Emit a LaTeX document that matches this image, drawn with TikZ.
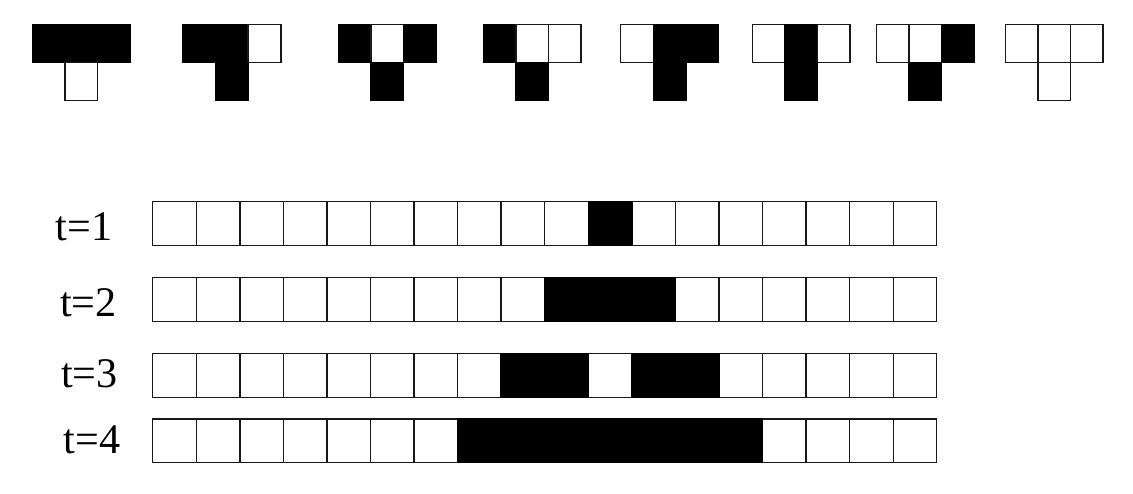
\documentclass[tikz,border=0pt]{standalone}
\usepackage{fontspec}
\setmainfont{Liberation Serif}
\usetikzlibrary{positioning}

\tikzset{cell/.style={draw=black!90, line width=1pt},
         on/.style={cell, draw=black, fill=black},
         lbl/.style={inner sep=0pt, font=\fontsize{30}{34}\selectfont}}

\begin{document}
\begin{tikzpicture}[x=0.025cm,y=-0.025cm]
\useasboundingbox (0,0) rectangle (1133,494);
% rule table
\foreach \px/\a/\b/\c/\d in {32.3/1/1/1/0, 183/1/1/0/1, 338.3/1/0/1/1, 483.3/1/0/0/1,
                            620.7/0/1/1/1, 752.3/0/1/0/1, 876.3/0/0/1/1, 1005.3/0/0/0/0}{
    \foreach \i/\v in {0/\a, 1/\b, 2/\c}{
        \ifnum\v=1 \def\sty{on}\else\def\sty{cell}\fi
        \draw[\sty] (\px+\i*32.6,24.5) rectangle ++(32.6,38.2);
    }
    \ifnum\d=1 \def\sty{on}\else\def\sty{cell}\fi
    \draw[\sty] (\px+32.6,62.7) rectangle ++(32.6,38);
}
% time steps
\foreach \r/\lx/\ly/\y/\on in {1/83.8/227/201.7/{10}, 2/88.5/303/277.7/{9,10,11},
                               3/89.5/374/353.7/{8,9,11,12}, 4/92/440/419/{7,...,13}}{
    \node[lbl] (t\r) at (\lx,\ly) {t=\r};
    \foreach \k in {0,...,17}
        \draw[cell] (152.7+\k*43.56,\y) rectangle ++(43.56,43.6);
    \foreach \k in \on
        \draw[on] (152.7+\k*43.56,\y) rectangle ++(43.56,43.6);
}
\end{tikzpicture}
\end{document}
